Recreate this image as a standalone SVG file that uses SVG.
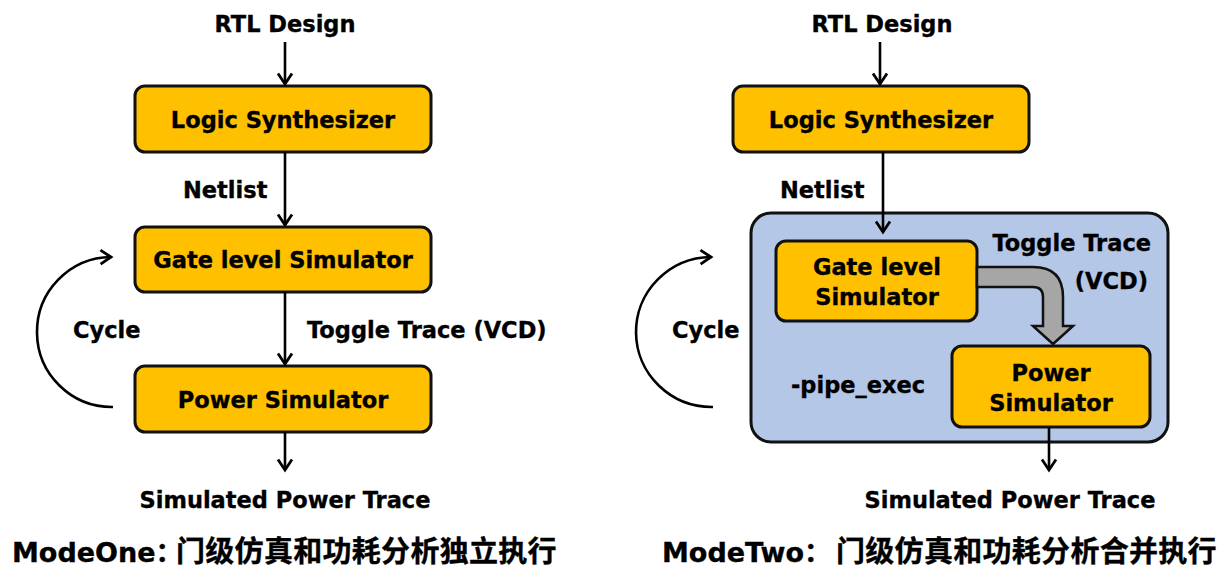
<svg xmlns="http://www.w3.org/2000/svg" width="1229" height="577" viewBox="0 0 1229 577">
<style>
text{font-family:"DejaVu Sans","Noto Sans CJK SC",sans-serif;font-weight:bold;fill:#000;stroke:#000;stroke-width:0.35;}
.lbl{font-size:22.5px;}
.mid{text-anchor:middle;}
.box{fill:#FFC000;stroke:#111;stroke-width:3;}
.con{fill:none;stroke:#000;stroke-width:2.6;}
.title{font-size:27px;}
.cjk{font-family:"Noto Sans CJK SC",sans-serif;font-size:29px;letter-spacing:0.3px;}
</style>
<defs>
<marker id="ah" markerUnits="userSpaceOnUse" markerWidth="16" markerHeight="18" refX="12" refY="8" orient="auto" viewBox="0 0 16 16">
<path d="M1.5,1 L12,8 L1.5,15" fill="none" stroke="#000" stroke-width="2.8"/>
</marker>
</defs>
<rect width="1229" height="577" fill="#fff"/>

<!-- Left diagram -->
<g id="l-rtl"><text class="lbl mid" x="285" y="32">RTL Design</text></g>
<g id="l-logic"><rect class="box" x="135" y="86" width="296" height="66" rx="10"/><text class="lbl mid" x="283" y="128">Logic Synthesizer</text></g>
<g id="l-gate"><rect class="box" x="135" y="227" width="296" height="65" rx="10"/><text class="lbl mid" x="283" y="268">Gate level Simulator</text></g>
<g id="l-power"><rect class="box" x="135" y="366" width="296" height="66" rx="10"/><text class="lbl mid" x="283" y="408">Power Simulator</text></g>
<g id="l-out"><text class="lbl mid" x="285" y="508">Simulated Power Trace</text></g>
<g id="l-title"><text class="title" x="12" y="562">ModeOne：<tspan class="cjk" x="176">门级仿真和功耗分析独立执行</tspan></text></g>

<!-- Right diagram -->
<g id="r-rtl"><text class="lbl mid" x="882" y="32">RTL Design</text></g>
<g id="r-logic"><rect class="box" x="733" y="86" width="296" height="66" rx="10"/><text class="lbl mid" x="881" y="128">Logic Synthesizer</text></g>
<g id="r-pipe"><rect x="751" y="213" width="417" height="229" rx="20" fill="#B4C7E7" stroke="#111" stroke-width="3"/><text class="lbl" x="791" y="393">-pipe_exec</text></g>
<g id="r-gate"><rect class="box" x="776" y="241" width="201" height="80" rx="10"/><text class="lbl mid" x="877" y="275">Gate level</text><text class="lbl mid" x="877" y="305">Simulator</text></g>
<g id="r-power"><rect class="box" x="952" y="346" width="198" height="81" rx="10"/><text class="lbl mid" x="1051" y="381">Power</text><text class="lbl mid" x="1051" y="411">Simulator</text></g>
<g id="r-out"><text class="lbl mid" x="1010" y="508">Simulated Power Trace</text></g>
<g id="r-title"><text class="title" x="662" y="562">ModeTwo：<tspan class="cjk" x="836">门级仿真和功耗分析合并执行</tspan></text></g>

<!-- Connectors -->
<g id="connectors">
<line class="con" x1="285" y1="42" x2="285" y2="84" marker-end="url(#ah)"/>
<line class="con" x1="285" y1="152" x2="285" y2="225" marker-end="url(#ah)"/>
<line class="con" x1="285" y1="292" x2="285" y2="364" marker-end="url(#ah)"/>
<line class="con" x1="285" y1="432" x2="285" y2="470" marker-end="url(#ah)"/>
<path class="con" d="M113,407 A75,75 0 0 1 111,257" marker-end="url(#ah)"/>
<text class="lbl" x="183" y="198">Netlist</text>
<text class="lbl" x="307" y="338">Toggle Trace (VCD)</text>
<text class="lbl" x="73" y="338">Cycle</text>

<line class="con" x1="880" y1="42" x2="880" y2="84" marker-end="url(#ah)"/>
<line class="con" x1="883" y1="152" x2="883" y2="232" marker-end="url(#ah)"/>
<line class="con" x1="1049" y1="428" x2="1049" y2="470" marker-end="url(#ah)"/>
<path class="con" d="M713,407 A76,75 0 0 1 711,257" marker-end="url(#ah)"/>
<path d="M977,267 L1033,267 Q1063,267 1063,297 L1063,326 L1073,326 L1053,344 L1033,326 L1043,326 L1043,297 Q1043,287 1033,287 L977,287 Z" fill="#A6A6A6" stroke="#111" stroke-width="2.5" stroke-linejoin="miter"/>
<text class="lbl" x="780" y="198">Netlist</text>
<text class="lbl" x="672" y="338">Cycle</text>
<text class="lbl" x="1151" y="251" text-anchor="end">Toggle Trace</text>
<text class="lbl" x="1148" y="289" text-anchor="end">(VCD)</text>
</g>
</svg>
